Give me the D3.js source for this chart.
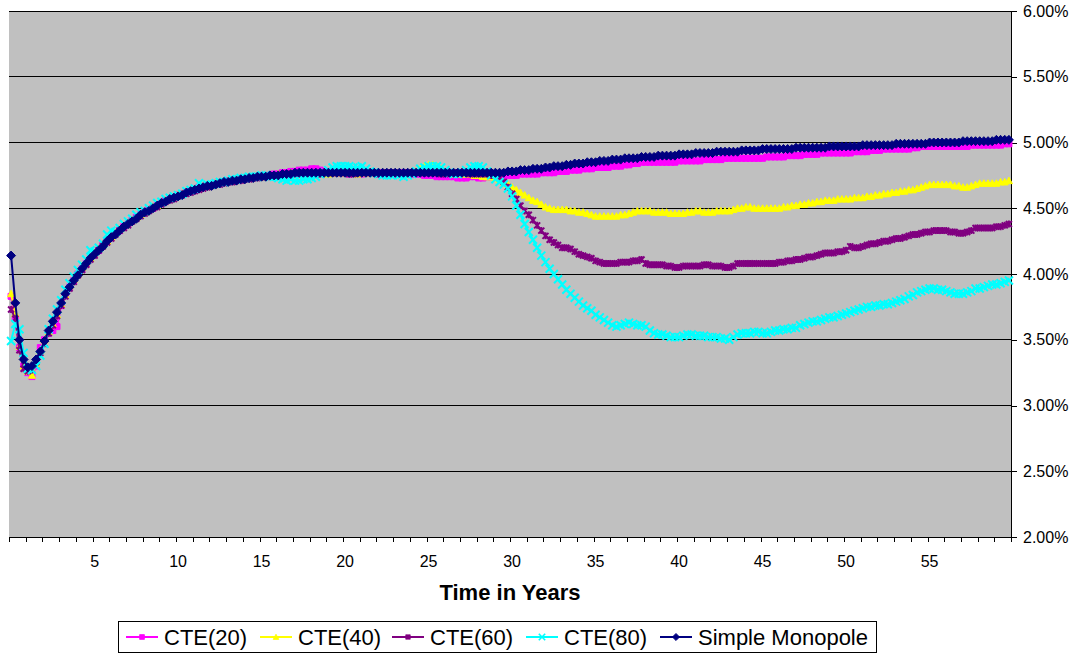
<!DOCTYPE html>
<html>
<head>
<meta charset="utf-8">
<script src="https://cdn.jsdelivr.net/npm/d3@7"></script>
<style>
    body { margin: 0; background: #fff; }
    text { font-family: Arial, "Liberation Sans", sans-serif; }
</style>
</head>
<body>
<script>
// quarterly values (%), 60 years = 240 quarters
const cte20 = [
    3.83,3.66,3.44,3.30,3.25,3.22,3.30,3.44,3.50,3.55,3.57,3.60,3.76,3.84,3.90,3.95,4.00,4.04,4.08,4.12,
    4.15,4.18,4.22,4.25,4.28,4.31,4.33,4.36,4.38,4.41,4.43,4.45,4.47,4.49,4.50,4.52,4.54,4.56,4.57,4.58,
    4.60,4.61,4.62,4.63,4.64,4.66,4.66,4.67,4.68,4.69,4.69,4.70,4.71,4.71,4.72,4.72,4.73,4.73,4.74,4.74,
    4.75,4.75,4.75,4.76,4.76,4.77,4.77,4.78,4.78,4.79,4.79,4.79,4.80,4.80,4.79,4.78,4.78,4.77,4.77,4.77,
    4.77,4.76,4.77,4.77,4.76,4.77,4.77,4.77,4.76,4.77,4.77,4.77,4.76,4.76,4.77,4.77,4.76,4.76,4.76,4.75,
    4.75,4.75,4.74,4.74,4.74,4.74,4.74,4.73,4.73,4.73,4.74,4.74,4.73,4.73,4.74,4.74,4.75,4.75,4.75,4.75,
    4.75,4.75,4.76,4.76,4.76,4.76,4.76,4.77,4.77,4.77,4.77,4.78,4.78,4.78,4.79,4.79,4.79,4.80,4.80,4.80,
    4.81,4.81,4.81,4.81,4.82,4.82,4.82,4.83,4.83,4.84,4.84,4.85,4.85,4.85,4.85,4.85,4.85,4.85,4.85,4.85,
    4.86,4.86,4.86,4.86,4.86,4.86,4.87,4.87,4.87,4.87,4.87,4.88,4.88,4.88,4.88,4.88,4.88,4.88,4.88,4.88,
    4.88,4.89,4.89,4.89,4.89,4.89,4.90,4.90,4.90,4.90,4.91,4.91,4.91,4.91,4.92,4.92,4.92,4.92,4.92,4.92,
    4.92,4.92,4.93,4.93,4.93,4.93,4.94,4.94,4.94,4.95,4.95,4.95,4.95,4.95,4.95,4.95,4.96,4.96,4.97,4.97,
    4.97,4.97,4.97,4.97,4.97,4.97,4.97,4.97,4.97,4.97,4.98,4.98,4.98,4.98,4.98,4.98,4.98,4.98,4.99,4.99
]
const cte40 = [
    3.85,3.70,3.45,3.30,3.26,3.23,3.32,3.42,3.50,3.56,3.62,3.69,3.77,3.84,3.91,3.96,4.00,4.05,4.09,4.12,
    4.16,4.19,4.22,4.25,4.28,4.31,4.34,4.37,4.39,4.41,4.43,4.45,4.47,4.49,4.51,4.52,4.54,4.56,4.57,4.58,
    4.60,4.61,4.62,4.63,4.65,4.66,4.66,4.67,4.68,4.69,4.69,4.70,4.71,4.71,4.72,4.72,4.73,4.73,4.74,4.74,
    4.74,4.75,4.75,4.75,4.76,4.76,4.76,4.77,4.77,4.77,4.77,4.77,4.77,4.77,4.77,4.77,4.76,4.77,4.77,4.77,
    4.77,4.77,4.77,4.76,4.77,4.77,4.77,4.77,4.77,4.77,4.77,4.77,4.77,4.77,4.77,4.77,4.77,4.78,4.80,4.82,
    4.83,4.83,4.82,4.80,4.78,4.77,4.76,4.76,4.76,4.76,4.76,4.75,4.75,4.74,4.74,4.74,4.73,4.72,4.70,4.68,
    4.66,4.64,4.62,4.60,4.58,4.56,4.55,4.53,4.51,4.50,4.49,4.49,4.49,4.49,4.48,4.48,4.47,4.47,4.46,4.45,
    4.44,4.44,4.44,4.44,4.44,4.44,4.45,4.45,4.46,4.47,4.48,4.48,4.48,4.48,4.47,4.47,4.47,4.47,4.46,4.46,
    4.46,4.46,4.47,4.47,4.48,4.48,4.47,4.47,4.47,4.48,4.48,4.48,4.48,4.49,4.50,4.50,4.51,4.51,4.50,4.50,
    4.50,4.50,4.50,4.50,4.50,4.51,4.51,4.52,4.52,4.53,4.53,4.54,4.54,4.55,4.55,4.56,4.56,4.56,4.57,4.57,
    4.57,4.57,4.58,4.58,4.58,4.59,4.59,4.60,4.60,4.61,4.61,4.62,4.62,4.63,4.63,4.64,4.64,4.65,4.66,4.67,
    4.68,4.68,4.68,4.68,4.68,4.68,4.67,4.67,4.66,4.66,4.67,4.68,4.69,4.69,4.69,4.69,4.69,4.70,4.70,4.71
]
const cte60 = [
    3.73,3.66,3.42,3.28,3.26,3.27,3.33,3.40,3.47,3.55,3.61,3.68,3.76,3.83,3.89,3.94,3.99,4.03,4.07,4.11,
    4.14,4.18,4.21,4.24,4.27,4.30,4.33,4.35,4.37,4.40,4.42,4.44,4.46,4.48,4.50,4.51,4.53,4.55,4.56,4.57,
    4.59,4.60,4.61,4.62,4.63,4.64,4.65,4.66,4.67,4.68,4.68,4.69,4.70,4.70,4.71,4.71,4.72,4.72,4.73,4.73,
    4.74,4.74,4.74,4.75,4.75,4.75,4.76,4.76,4.76,4.76,4.77,4.77,4.76,4.76,4.76,4.77,4.77,4.77,4.77,4.77,
    4.77,4.76,4.76,4.77,4.77,4.77,4.77,4.77,4.76,4.76,4.77,4.77,4.77,4.76,4.76,4.77,4.77,4.77,4.77,4.77,
    4.77,4.77,4.77,4.76,4.76,4.77,4.77,4.77,4.77,4.77,4.76,4.76,4.76,4.76,4.76,4.75,4.75,4.73,4.70,4.66,
    4.61,4.57,4.52,4.48,4.45,4.41,4.37,4.33,4.29,4.26,4.24,4.22,4.20,4.20,4.19,4.17,4.15,4.14,4.13,4.12,
    4.10,4.09,4.08,4.08,4.08,4.08,4.09,4.09,4.09,4.10,4.10,4.11,4.08,4.07,4.07,4.07,4.07,4.06,4.06,4.05,
    4.05,4.06,4.06,4.06,4.06,4.06,4.07,4.07,4.06,4.06,4.06,4.05,4.05,4.06,4.08,4.08,4.08,4.08,4.08,4.08,
    4.08,4.08,4.08,4.08,4.09,4.09,4.10,4.10,4.11,4.11,4.12,4.13,4.13,4.14,4.15,4.16,4.16,4.16,4.17,4.17,
    4.18,4.21,4.20,4.20,4.21,4.22,4.23,4.23,4.24,4.25,4.25,4.26,4.27,4.27,4.28,4.29,4.30,4.30,4.31,4.32,
    4.32,4.33,4.33,4.33,4.33,4.32,4.32,4.31,4.31,4.32,4.33,4.35,4.35,4.35,4.35,4.35,4.36,4.36,4.37,4.38
]
const cte80 = [
    3.49,3.62,3.58,3.40,3.28,3.27,3.30,3.38,3.47,3.58,3.66,3.73,3.80,3.88,3.93,3.98,4.03,4.07,4.11,4.18,
    4.17,4.20,4.23,4.30,4.33,4.32,4.35,4.38,4.40,4.42,4.45,4.47,4.48,4.50,4.52,4.54,4.55,4.57,4.58,4.59,
    4.60,4.61,4.63,4.64,4.65,4.69,4.67,4.68,4.68,4.69,4.70,4.70,4.71,4.72,4.72,4.73,4.73,4.74,4.74,4.74,
    4.75,4.75,4.74,4.74,4.73,4.72,4.71,4.72,4.71,4.71,4.72,4.72,4.73,4.74,4.76,4.77,4.79,4.81,4.82,4.82,
    4.82,4.82,4.81,4.81,4.82,4.80,4.78,4.77,4.76,4.75,4.75,4.75,4.76,4.75,4.74,4.75,4.76,4.78,4.80,4.81,
    4.82,4.82,4.82,4.81,4.79,4.77,4.76,4.76,4.77,4.79,4.81,4.82,4.82,4.81,4.78,4.75,4.72,4.70,4.68,4.65,
    4.59,4.52,4.45,4.38,4.32,4.26,4.20,4.14,4.09,4.04,4.00,3.96,3.92,3.88,3.85,3.82,3.79,3.76,3.74,3.72,
    3.69,3.67,3.65,3.63,3.61,3.60,3.61,3.62,3.63,3.62,3.61,3.61,3.60,3.57,3.55,3.54,3.54,3.53,3.52,3.52,
    3.52,3.53,3.54,3.54,3.53,3.53,3.53,3.52,3.52,3.52,3.51,3.51,3.50,3.52,3.54,3.55,3.55,3.55,3.56,3.56,
    3.55,3.55,3.56,3.57,3.57,3.58,3.58,3.59,3.59,3.61,3.62,3.63,3.64,3.64,3.65,3.66,3.67,3.67,3.68,3.69,
    3.70,3.71,3.72,3.73,3.74,3.75,3.75,3.76,3.76,3.77,3.77,3.78,3.79,3.80,3.81,3.83,3.84,3.86,3.87,3.88,
    3.89,3.89,3.88,3.88,3.87,3.86,3.85,3.85,3.85,3.86,3.87,3.89,3.89,3.90,3.91,3.92,3.92,3.93,3.94,3.95
]
const simpleMonopole = [
    4.14,3.78,3.50,3.35,3.29,3.30,3.35,3.41,3.49,3.57,3.64,3.71,3.78,3.85,3.90,3.95,3.99,4.04,4.08,4.12,
    4.15,4.18,4.21,4.25,4.28,4.30,4.33,4.36,4.38,4.40,4.42,4.45,4.47,4.48,4.50,4.52,4.54,4.55,4.57,4.58,
    4.59,4.60,4.62,4.63,4.64,4.65,4.66,4.67,4.67,4.68,4.69,4.70,4.70,4.71,4.71,4.72,4.72,4.73,4.73,4.74,
    4.74,4.74,4.75,4.75,4.75,4.76,4.76,4.76,4.77,4.77,4.77,4.77,4.77,4.77,4.77,4.77,4.77,4.77,4.77,4.77,
    4.77,4.77,4.77,4.77,4.77,4.77,4.77,4.77,4.77,4.77,4.77,4.77,4.77,4.77,4.77,4.77,4.77,4.77,4.77,4.77,
    4.77,4.77,4.77,4.77,4.77,4.77,4.77,4.77,4.77,4.77,4.77,4.77,4.77,4.77,4.77,4.77,4.77,4.77,4.77,4.78,
    4.78,4.78,4.79,4.79,4.79,4.80,4.80,4.80,4.81,4.81,4.82,4.82,4.82,4.83,4.83,4.84,4.84,4.84,4.85,4.85,
    4.85,4.86,4.86,4.86,4.87,4.87,4.87,4.88,4.88,4.88,4.88,4.89,4.89,4.89,4.89,4.90,4.90,4.90,4.90,4.90,
    4.91,4.91,4.91,4.91,4.92,4.92,4.92,4.92,4.92,4.93,4.93,4.93,4.93,4.93,4.93,4.94,4.94,4.94,4.94,4.94,
    4.95,4.95,4.95,4.95,4.95,4.95,4.95,4.95,4.96,4.96,4.96,4.96,4.96,4.96,4.96,4.96,4.97,4.97,4.97,4.97,
    4.97,4.97,4.97,4.97,4.98,4.98,4.98,4.98,4.98,4.98,4.98,4.98,4.99,4.99,4.99,4.99,4.99,4.99,4.99,4.99,
    5.00,5.00,5.00,5.00,5.00,5.00,5.00,5.00,5.01,5.01,5.01,5.01,5.01,5.01,5.01,5.01,5.02,5.02,5.02,5.02
]

const seriesNames = ["CTE(20)", "CTE(40)", "CTE(60)", "CTE(80)", "Simple Monopole"]
const seriesColors = ["#ff00ff", "#ffff00", "#800080", "#00ffff", "#000080"]
const seriesValues = [cte20, cte40, cte60, cte80, simpleMonopole]
const xTickLabels = [5, 10, 15, 20, 25, 30, 35, 40, 45, 50, 55]
const yTickValues = [2.0, 2.5, 3.0, 3.5, 4.0, 4.5, 5.0, 5.5, 6.0]

// setup canvas
let width = 1072
let height = 654
let plot = { left: 9, right: 1011, top: 11, bottom: 537 }

let svg = d3.select("body").append("svg")
    .attr("width", width)
    .attr("height", height)

let x = d3.scaleLinear().domain([0, 60]).range([plot.left, plot.right])
let y = d3.scaleLinear().domain([2, 6]).range([plot.bottom, plot.top])
// each point sits in the middle of its quarter
let px = (v, i) => x(i / 4 + 0.125)

// marker shapes (Excel style)
const markers = [
    { path: "M-3,-3H3V3H-3Z", fill: true, sw: 1 },
    { path: "M0,-3.5L3.5,3H-3.5Z", fill: true, sw: 1 },
    { path: "M-3,-3L3,3M-3,3L3,-3M0,-3.5V3.5", fill: false, sw: 2 },
    { path: "M-4,-4L4,4M-4,4L4,-4", fill: false, sw: 2 },
    { path: "M0,-4.5L4.5,0L0,4.5L-4.5,0Z", fill: true, sw: 1 }
]

// plot background
svg.append("rect")
    .attr("x", plot.left).attr("y", plot.top)
    .attr("width", plot.right - plot.left).attr("height", plot.bottom - plot.top)
    .attr("fill", "#c0c0c0")

// gridlines
svg.append("g")
    .selectAll("line")
    .data(yTickValues)
    .enter()
    .append("line")
        .attr("x1", plot.left).attr("x2", plot.right)
        .attr("y1", d => y(d)).attr("y2", d => y(d))
        .attr("stroke", "#000").attr("stroke-width", 1)
        .attr("shape-rendering", "crispEdges")

// right axis
let yAxis = d3.axisRight(y)
    .tickValues(yTickValues)
    .tickFormat(d => d.toFixed(2) + "%")
    .tickSize(6)
    .tickPadding(6)

let yg = svg.append("g")
    .attr("transform", `translate(${plot.right},0)`)
    .call(yAxis)
yg.select(".domain").attr("stroke", "#000").attr("shape-rendering", "crispEdges")
yg.selectAll(".tick line").attr("stroke", "#000").attr("shape-rendering", "crispEdges")
yg.selectAll("text").attr("font-size", 16).attr("fill", "#000")
    .style("font-family", "Arial, 'Liberation Sans', sans-serif")

// bottom axis: a tick every year, a label every 5 years
let xAxis = d3.axisBottom(x)
    .tickValues(d3.range(0, 61))
    .tickFormat("")
    .tickSize(5)
    .tickSizeOuter(0)

let xg = svg.append("g")
    .attr("transform", `translate(0,${plot.bottom})`)
    .call(xAxis)
xg.select(".domain").attr("stroke", "#000").attr("shape-rendering", "crispEdges")
xg.selectAll(".tick line").attr("stroke", "#000").attr("shape-rendering", "crispEdges")

svg.append("g")
    .selectAll("text")
    .data(xTickLabels)
    .enter()
    .append("text")
        .attr("x", d => x(d + 0.125))
        .attr("y", 567)
        .attr("text-anchor", "middle")
        .attr("font-size", 16)
        .text(d => d)

svg.append("text")
    .attr("x", 510)
    .attr("y", 600)
    .attr("text-anchor", "middle")
    .attr("font-size", 22)
    .attr("font-weight", "bold")
    .text("Time in Years")

// series
let line = d3.line()
    .x(px)
    .y(d => y(d))

seriesValues.forEach((vals, k) => {
    let g = svg.append("g").attr("class", "series")
    g.append("path")
        .datum(vals)
        .attr("d", line)
        .attr("fill", "none")
        .attr("stroke", seriesColors[k])
        .attr("stroke-width", 2)

    g.selectAll(".marker")
        .data(vals)
        .enter()
        .append("path")
            .attr("class", "marker")
            .attr("d", markers[k].path)
            .attr("transform", (d, i) => `translate(${px(d, i)},${y(d)})`)
            .attr("fill", markers[k].fill ? seriesColors[k] : "none")
            .attr("stroke", seriesColors[k])
            .attr("stroke-width", markers[k].sw)
})

// legend
let legend = svg.append("g")
legend.append("rect")
    .attr("x", 118.5).attr("y", 621.5)
    .attr("width", 758).attr("height", 31)
    .attr("fill", "#fff").attr("stroke", "#000")

const legendX = [126, 260, 392, 526, 660]
let items = legend.selectAll(".item")
    .data(seriesNames)
    .enter()
    .append("g")
        .attr("class", "item")
        .attr("transform", (d, i) => `translate(${legendX[i]},637)`)

items.append("line")
    .attr("x1", 0).attr("x2", 32)
    .attr("stroke", (d, i) => seriesColors[i])
    .attr("stroke-width", 2)
items.append("path")
    .attr("d", (d, i) => markers[i].path)
    .attr("transform", "translate(16,0) scale(0.8)")
    .attr("fill", (d, i) => markers[i].fill ? seriesColors[i] : "none")
    .attr("stroke", (d, i) => seriesColors[i])
    .attr("stroke-width", (d, i) => markers[i].sw)
items.append("text")
    .attr("x", 38)
    .attr("y", 8)
    .attr("font-size", 22)
    .text(d => d)
</script>
</body>
</html>
